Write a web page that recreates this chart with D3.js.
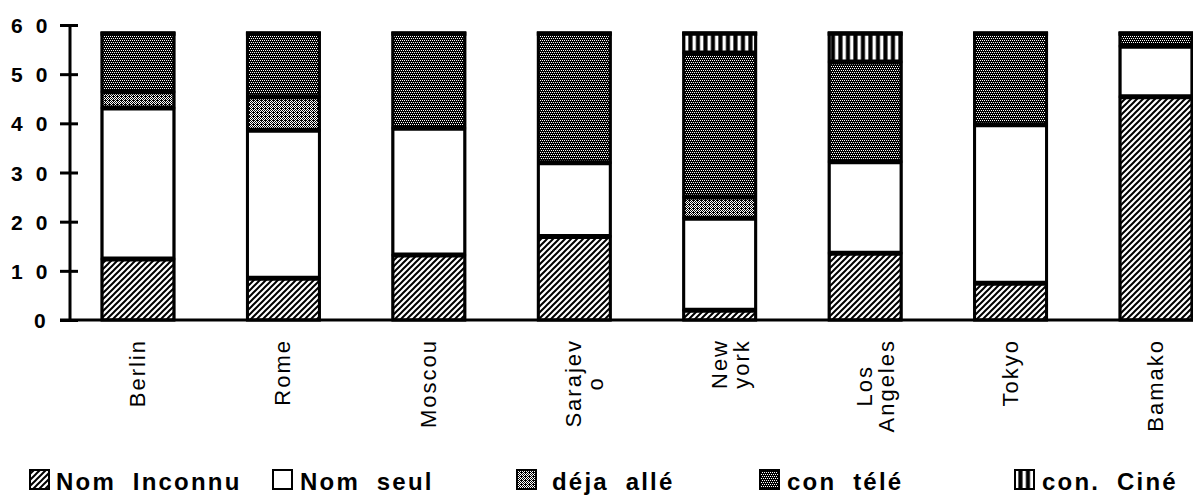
<!DOCTYPE html>
<html><head><meta charset="utf-8">
<script src="https://cdn.jsdelivr.net/npm/d3@7"></script>
<style>body{margin:0;background:#fff}svg{display:block}</style>
</head><body>
<script>
// ---- data ----
const categories = ["Berlin","Rome","Moscou","Sarajevo","New york","Los Angeles","Tokyo","Bamako"];
const categoryLabelLines = [["Berlin"],["Rome"],["Moscou"],["Sarajev","o"],["New","york"],["Los","Angeles"],["Tokyo"],["Bamako"]];
const seriesKeys = ["inconnu","seul","deja","tele","cine"];
const seriesNames = ["Nom Inconnu","Nom seul","déja allé","con télé","con. Ciné"];
const nomInconnu = [12.4, 8.5, 13.2, 17.0, 2.0, 13.6, 7.5, 45.4];
const nomSeul    = [30.7, 30.1, 25.8, 15.0, 18.7, 18.6, 32.2, 10.3];
const dejaAlle   = [3.3, 6.8, 0, 0, 4.3, 0, 0, 0];
const conTele    = [12.0, 13.0, 19.4, 26.4, 29.3, 20.3, 18.7, 2.7];
const conCine    = [0, 0, 0, 0, 4.1, 5.9, 0, 0];
const yTicks = [0, 10, 20, 30, 40, 50, 60];
const yTickLabels = ["0","10","20","30","40","50","60"];

const seriesValues = [nomInconnu, nomSeul, dejaAlle, conTele, conCine];
const table = categories.map((c, i) => {
  const row = {cat: c};
  seriesKeys.forEach((k, j) => { row[k] = seriesValues[j][i]; });
  return row;
});

const W = 1193, H = 498;
const svg = d3.select("body").append("svg").attr("width", W).attr("height", H);
const FONT = "'Liberation Sans', Arial, Helvetica, sans-serif";

// ---- patterns ----
const defs = svg.append("defs");
const pH = defs.append("pattern").attr("id","p-inconnu").attr("patternUnits","userSpaceOnUse").attr("width",6).attr("height",6);
pH.append("rect").attr("width",6).attr("height",6).attr("fill","#fff");
pH.append("path").attr("d","M-1,1 L1,-1 M0,6 L6,0 M5,7 L7,5").attr("stroke","#000").attr("stroke-width",2);

const pS = defs.append("pattern").attr("id","p-seul").attr("patternUnits","userSpaceOnUse").attr("width",4).attr("height",4);
pS.append("rect").attr("width",4).attr("height",4).attr("fill","#fff");

const pD = defs.append("pattern").attr("id","p-deja").attr("patternUnits","userSpaceOnUse").attr("width",4).attr("height",4);
pD.append("rect").attr("width",4).attr("height",4).attr("fill","#fff");
const dejaDots = [[0,0],[2,0],[1,1],[3,1],[0,2],[2,2],[1,3],[3,3],[1,0]];
dejaDots.forEach(p => pD.append("rect").attr("x",p[0]).attr("y",p[1]).attr("width",1).attr("height",1).attr("fill","#000"));

const pT = defs.append("pattern").attr("id","p-tele").attr("patternUnits","userSpaceOnUse").attr("width",4).attr("height",4);
pT.append("rect").attr("width",4).attr("height",4).attr("fill","#000");
const teleDots = [[0,0],[2,0],[1,2],[3,2]];
teleDots.forEach(p => pT.append("rect").attr("x",p[0]).attr("y",p[1]).attr("width",1).attr("height",1).attr("fill","#fff"));

const pC = defs.append("pattern").attr("id","p-cine").attr("patternUnits","userSpaceOnUse").attr("width",7.5).attr("height",4);
pC.append("rect").attr("width",7.5).attr("height",4).attr("fill","#000");
pC.append("rect").attr("x",2.5).attr("width",3.4).attr("height",4).attr("fill","#fff");

const fills = {inconnu:"url(#p-inconnu)", seul:"url(#p-seul)", deja:"url(#p-deja)", tele:"url(#p-tele)", cine:"url(#p-cine)"};

// ---- scales ----
const x = d3.scaleBand().domain(categories).range([70, 1224]).paddingInner(0.505).paddingOuter(0.22);
const y = d3.scaleLinear().domain([0, 60]).range([320, 25]);

const stack = d3.stack().keys(seriesKeys)(table);

// ---- bars ----
const gBars = svg.append("g");
stack.forEach(layer => {
  gBars.selectAll(null).data(layer.filter(d => d[1] - d[0] > 0)).enter().append("rect")
    .attr("x", d => x(d.data.cat))
    .attr("width", x.bandwidth())
    .attr("y", d => y(d[1]))
    .attr("height", d => y(d[0]) - y(d[1]))
    .attr("fill", fills[layer.key])
    .attr("stroke", "#000").attr("stroke-width", 2.5);
});
// internal boundaries (thick)
stack.forEach(layer => {
  gBars.selectAll(null).data(layer.filter(d => d[1] - d[0] > 0 && d[0] > 0)).enter().append("line")
    .attr("x1", d => x(d.data.cat)).attr("x2", d => x(d.data.cat) + x.bandwidth())
    .attr("y1", d => y(d[0])).attr("y2", d => y(d[0]))
    .attr("stroke", "#000").attr("stroke-width", 5);
});
// outer frame
const last = stack[stack.length - 1];
gBars.selectAll(null).data(last).enter().append("rect")
  .attr("x", d => x(d.data.cat)).attr("width", x.bandwidth())
  .attr("y", d => y(d[1])).attr("height", d => y(0) - y(d[1]))
  .attr("fill", "none").attr("stroke", "#000").attr("stroke-width", 3);
gBars.selectAll(null).data(last).enter().append("line")
  .attr("x1", d => x(d.data.cat) - 1.5).attr("x2", d => x(d.data.cat) + x.bandwidth() + 1.5)
  .attr("y1", d => y(d[1]) + 1).attr("y2", d => y(d[1]) + 1)
  .attr("stroke", "#000").attr("stroke-width", 4);

// ---- axes ----
const yAxis = d3.axisLeft(y).tickValues(yTicks).tickFormat((d, i) => yTickLabels[i]).tickSize(10).tickPadding(0);
const gy = svg.append("g").attr("transform", "translate(70,0)").call(yAxis);
gy.select(".domain").remove();
gy.selectAll(".tick line").attr("x1", 8).attr("x2", -10).attr("stroke", "#000").attr("stroke-width", 3);
gy.selectAll(".tick text")
  .attr("font-family", FONT).attr("font-weight", "bold").attr("font-size", 21)
  .style("letter-spacing", "13px")
  .attr("text-anchor", "start")
  .attr("x", (d, i) => -59 + (2 - yTickLabels[i].length) * 23)
  .attr("dy", "0.36em").attr("fill", "#000");
svg.append("line").attr("x1", 70).attr("x2", 70).attr("y1", y(0) + 1).attr("y2", y(60) - 1)
  .attr("stroke", "#000").attr("stroke-width", 3);
svg.append("line").attr("x1", 60).attr("x2", W).attr("y1", y(0)).attr("y2", y(0))
  .attr("stroke", "#000").attr("stroke-width", 3);

// ---- x labels ----
const gx = svg.append("g");
categories.forEach((c, i) => {
  const lines = categoryLabelLines[i];
  const cx = x(c) + x.bandwidth() / 2;
  const g = gx.append("g");
  const texts = lines.map(ln => g.append("text").text(ln)
    .attr("font-family", FONT).attr("font-size", 22)
    .style("letter-spacing", "2px")
    .attr("text-anchor", "middle").attr("fill", "#000"));
  const maxLen = d3.max(texts, t => t.node().getComputedTextLength());
  const cy = 339 + maxLen / 2;
  texts.forEach((t, j) => {
    const tx = cx + 7 + j * 22;
    t.attr("transform", `translate(${tx},${cy}) rotate(-90)`);
  });
});

// ---- legend ----
const legendBoxX = [30, 273, 517, 760, 1015];
const legendTextX = [56, 300, 552, 787, 1042];
const gl = svg.append("g");
seriesKeys.forEach((k, i) => {
  gl.append("rect").attr("x", legendBoxX[i]).attr("y", 470).attr("width", 19).attr("height", 19)
    .attr("fill", fills[k]).attr("stroke", "#000").attr("stroke-width", 2);
  gl.append("text").text(seriesNames[i])
    .attr("x", legendTextX[i]).attr("y", 490)
    .attr("font-family", FONT).attr("font-weight", "bold").attr("font-size", 24)
    .style("letter-spacing", "2.2px").style("word-spacing", "8px")
    .attr("fill", "#000");
});
</script>
</body></html>
